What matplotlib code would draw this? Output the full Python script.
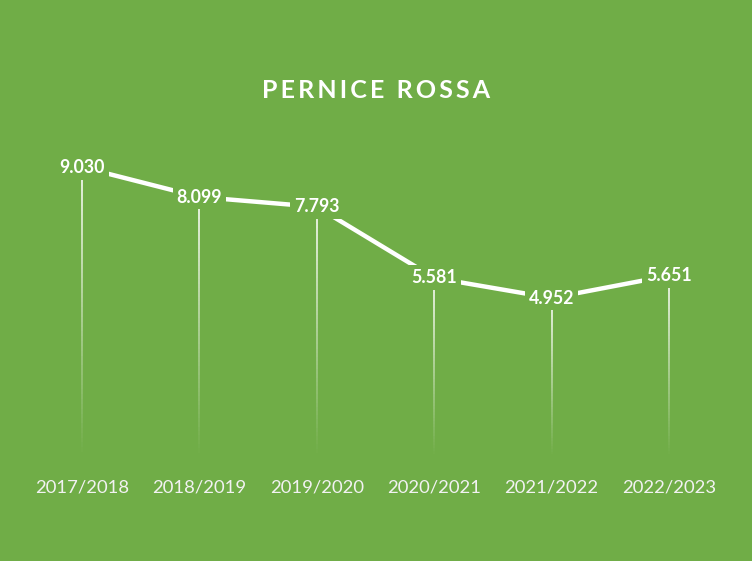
import matplotlib.pyplot as plt
import numpy as np
from matplotlib.collections import LineCollection

seasons = ["2017/2018", "2018/2019", "2019/2020", "2020/2021", "2021/2022", "2022/2023"]
values = [9.030, 8.099, 7.793, 5.581, 4.952, 5.651]
labels = ["9.030", "8.099", "7.793", "5.581", "4.952", "5.651"]

GREEN = "#70AD47"
plt.rcParams['font.family'] = ['Lato', 'DejaVu Sans']

fig = plt.figure(figsize=(7.52, 5.61), dpi=100, facecolor=GREEN)
ax = fig.add_axes([0.031, 0.1854, 0.9367, 0.5722])
ax.set_facecolor(GREEN)

x = np.arange(len(seasons))

# drop lines fading towards the axis
n = 60
for xi, v in zip(x, values):
    ys = np.linspace(0, v, n + 1)
    segs = [[(xi, ys[i]), (xi, ys[i + 1])] for i in range(n)]
    alphas = np.linspace(0.0, 0.85, n)
    cols = [(1, 1, 1, a) for a in alphas]
    ax.add_collection(LineCollection(segs, colors=cols, linewidths=1.4, zorder=1))

ax.plot(x, values, color="white", lw=3.2, solid_capstyle="butt", zorder=2)

for xi, v, lab in zip(x, values, labels):
    ax.text(xi, v, lab, ha="center", va="center", color="white", fontsize=12.8,
            fontweight="bold", zorder=3,
            bbox=dict(boxstyle="square,pad=0.22", facecolor=GREEN, edgecolor="none"))

ax.set_xlim(-0.5, len(seasons) - 0.5)
ax.set_ylim(0, 10)
ax.set_xticks(x)
ax.set_xticklabels(seasons, color="#F2F2F2", fontsize=13.3)
ax.tick_params(axis="x", length=0, pad=16)
ax.set_yticks([])
for s in ax.spines.values():
    s.set_visible(False)

fig.text(0.5, 1 - 91 / 561, "P E R N I C E   R O S S A".replace(" ", "\u2009").replace("\u2009\u2009\u2009", "  "),
         ha="center", va="center", color="white", fontsize=18, fontweight="bold")

fig.savefig("out.png", dpi=100, facecolor=GREEN)
